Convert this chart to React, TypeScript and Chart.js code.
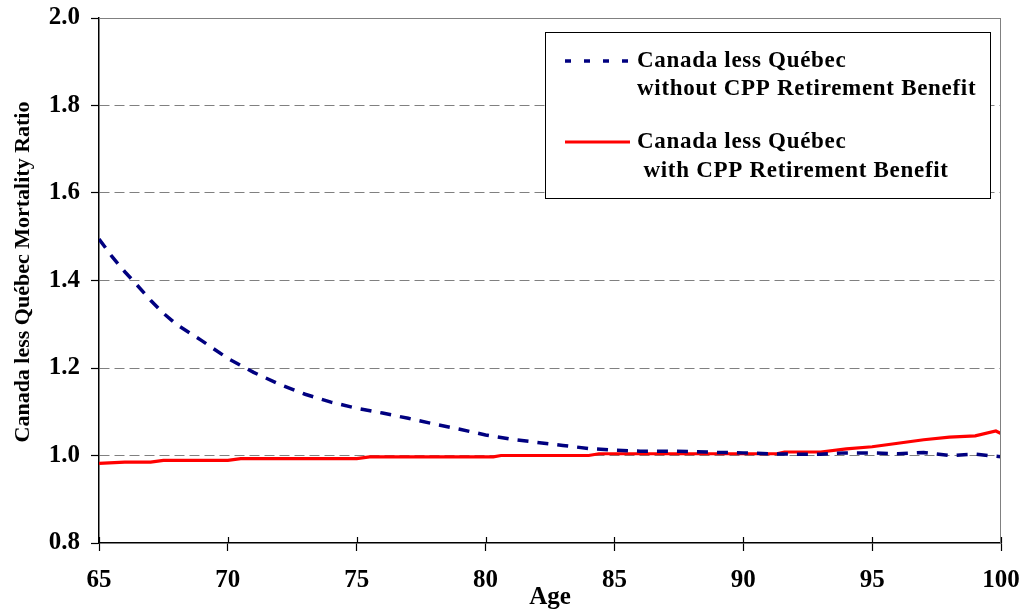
import React, { useEffect, useRef } from "react";
import { Chart, registerables } from "chart.js";

Chart.register(...registerables);

// ---- Data ----
const agesWithout = [65, 65.5, 66, 66.5, 67, 67.5, 68, 69, 70, 71, 72, 73, 74, 75, 76, 77, 78, 79, 80, 81, 82, 83, 84, 85, 86, 87, 88, 89, 90, 91, 92, 93, 94, 95, 96, 97, 98, 99, 100];
const ratioWithout = [1.495, 1.455, 1.42, 1.388, 1.355, 1.325, 1.3, 1.262, 1.222, 1.19, 1.163, 1.14, 1.122, 1.108, 1.097, 1.085, 1.072, 1.06, 1.047, 1.037, 1.03, 1.023, 1.016, 1.012, 1.01, 1.01, 1.009, 1.007, 1.006, 1.004, 1.003, 1.003, 1.006, 1.006, 1.004, 1.007, 1.0, 1.003, 0.997];

const agesWith = [65, 66, 67, 67.5, 70, 70.5, 75, 75.5, 80.3, 80.6, 84, 84.4, 91.3, 91.6, 93, 94, 95, 96, 97, 98, 99, 99.8, 100];
const ratioWith = [0.982, 0.985, 0.985, 0.989, 0.989, 0.993, 0.993, 0.997, 0.997, 1.0, 1.0, 1.004, 1.004, 1.008, 1.008, 1.015, 1.02, 1.028, 1.036, 1.042, 1.045, 1.056, 1.05];

const xTickValues = [65, 70, 75, 80, 85, 90, 95, 100];
const yMin = 0.8;
const yMax = 2.0;
const yStep = 0.2;

const seriesNames = ["Canada less Québec without CPP Retirement Benefit", "Canada less Québec with CPP Retirement Benefit"];
const legendLines = [
  ["Canada less Québec", "without CPP Retirement Benefit"],
  ["Canada less Québec", " with CPP Retirement Benefit"],
];
const yTitle = "Canada less Québec Mortality Ratio";
const xTitle = "Age";

const FONT = "'Liberation Serif', 'Times New Roman', Times, serif";
const BLUE = "#000080";
const RED = "#ff0000";

const decorPlugin = {
  id: "decor",
  afterDraw(chart: any) {
    const { ctx, chartArea, scales } = chart;
    const { left, right, top, bottom } = chartArea;
    ctx.save();
    // gray frame top + right
    ctx.strokeStyle = "#808080";
    ctx.lineWidth = 1;
    ctx.setLineDash([]);
    ctx.beginPath();
    ctx.moveTo(left, top + 0.5);
    ctx.lineTo(right, top + 0.5);
    ctx.moveTo(right - 0.5, top);
    ctx.lineTo(right - 0.5, bottom);
    ctx.stroke();

    // inward x ticks
    ctx.strokeStyle = "#000";
    ctx.lineWidth = 1.2;
    ctx.beginPath();
    xTickValues.forEach((v) => {
      const x = Math.round(scales.x.getPixelForValue(v)) + 0.5;
      ctx.moveTo(x, bottom - 6);
      ctx.lineTo(x, bottom);
    });
    ctx.stroke();

    // legend box
    const bx = 545, by = 32, bw = 445, bh = 166;
    ctx.fillStyle = "#fff";
    ctx.fillRect(bx, by, bw, bh);
    ctx.strokeStyle = "#000";
    ctx.lineWidth = 1;
    ctx.strokeRect(bx + 0.5, by + 0.5, bw, bh);

    // legend samples
    ctx.lineWidth = 3.5;
    ctx.strokeStyle = BLUE;
    ctx.setLineDash([6, 13]);
    ctx.beginPath();
    ctx.moveTo(565, 61);
    ctx.lineTo(630, 61);
    ctx.stroke();
    ctx.setLineDash([]);
    ctx.lineWidth = 3;
    ctx.strokeStyle = RED;
    ctx.beginPath();
    ctx.moveTo(565, 142);
    ctx.lineTo(630, 142);
    ctx.stroke();

    // legend text
    ctx.fillStyle = "#000";
    ctx.font = `bold 23px ${FONT}`;
    ctx.textAlign = "left";
    ctx.textBaseline = "alphabetic";
    try { (ctx as any).letterSpacing = "0.7px"; } catch (e) {}
    ctx.fillText(legendLines[0][0], 637, 67);
    ctx.fillText(legendLines[0][1], 637, 95);
    ctx.fillText(legendLines[1][0], 637, 148);
    ctx.fillText(legendLines[1][1], 637, 177);
    try { (ctx as any).letterSpacing = "0px"; } catch (e) {}

    // axis titles
    ctx.font = `bold 25px ${FONT}`;
    ctx.textAlign = "center";
    ctx.textBaseline = "alphabetic";
    ctx.fillText(xTitle, (left + right) / 2, 604);
    ctx.font = `bold 22px ${FONT}`;
    ctx.save();
    ctx.translate(29, 272);
    ctx.rotate(-Math.PI / 2);
    ctx.fillText(yTitle, 0, 0);
    ctx.restore();

    ctx.restore();
  },
};

export default function App() {
  const canvasRef = useRef<HTMLCanvasElement | null>(null);

  useEffect(() => {
    if (!canvasRef.current) return;
    const chart = new Chart(canvasRef.current, {
      type: "line",
      data: {
        datasets: [
          {
            label: seriesNames[0],
            data: agesWithout.map((a, i) => ({ x: a, y: ratioWithout[i] })),
            borderColor: BLUE,
            borderWidth: 3.5,
            borderDash: [11, 9],
            pointRadius: 0,
            tension: 0,
            fill: false,
          },
          {
            label: seriesNames[1],
            data: agesWith.map((a, i) => ({ x: a, y: ratioWith[i] })),
            borderColor: RED,
            borderWidth: 3.2,
            pointRadius: 0,
            tension: 0,
            fill: false,
          },
        ],
      },
      options: {
        animation: false,
        responsive: false,
        maintainAspectRatio: false,
        layout: { padding: { top: 18, right: 22, bottom: 0, left: 0 } },
        plugins: {
          legend: { display: false },
          tooltip: { enabled: false },
          title: { display: false },
        },
        scales: {
          x: {
            type: "linear",
            min: 65,
            max: 100,
            afterBuildTicks: (scale: any) => {
              scale.ticks = xTickValues.map((v) => ({ value: v }));
            },
            afterFit: (scale: any) => {
              scale.height = 68;
              scale.paddingLeft = 0;
              scale.paddingRight = 0;
            },
            ticks: {
              color: "#000",
              font: { family: FONT, size: 25, weight: "bold" },
              padding: 15,
              maxRotation: 0,
              autoSkip: false,
            },
            grid: {
              drawOnChartArea: false,
              drawTicks: true,
              tickLength: 8,
              tickColor: "#000",
              tickWidth: 1.2,
            },
            border: { display: true, color: "#000", width: 1.5 },
          },
          y: {
            type: "linear",
            min: yMin,
            max: yMax,
            ticks: {
              stepSize: yStep,
              color: "#000",
              font: { family: FONT, size: 25, weight: "bold" },
              padding: 11,
              callback: (v: any) => Number(v).toFixed(1),
            },
            afterFit: (scale: any) => {
              scale.width = 99;
              scale.paddingTop = 0;
              scale.paddingBottom = 0;
            },
            grid: {
              drawOnChartArea: true,
              drawTicks: true,
              tickLength: 8,
              tickColor: "#000",
              tickWidth: 1.2,
              lineWidth: 1,
              color: (c: any) => {
                const v = c.tick ? Math.round(c.tick.value * 10) / 10 : 0;
                return v <= yMin || v >= yMax ? "rgba(0,0,0,0)" : "#808080";
              },
            },
            border: { display: true, color: "#000", width: 1.5, dash: [10, 5] },
          },
        },
      },
      plugins: [decorPlugin],
    });
    return () => chart.destroy();
  }, []);

  return (
    <div style={{ position: "absolute", left: 0, top: 0, width: 1023, height: 611, background: "#fff" }}>
      <canvas ref={canvasRef} width={1023} height={611} />
    </div>
  );
}
